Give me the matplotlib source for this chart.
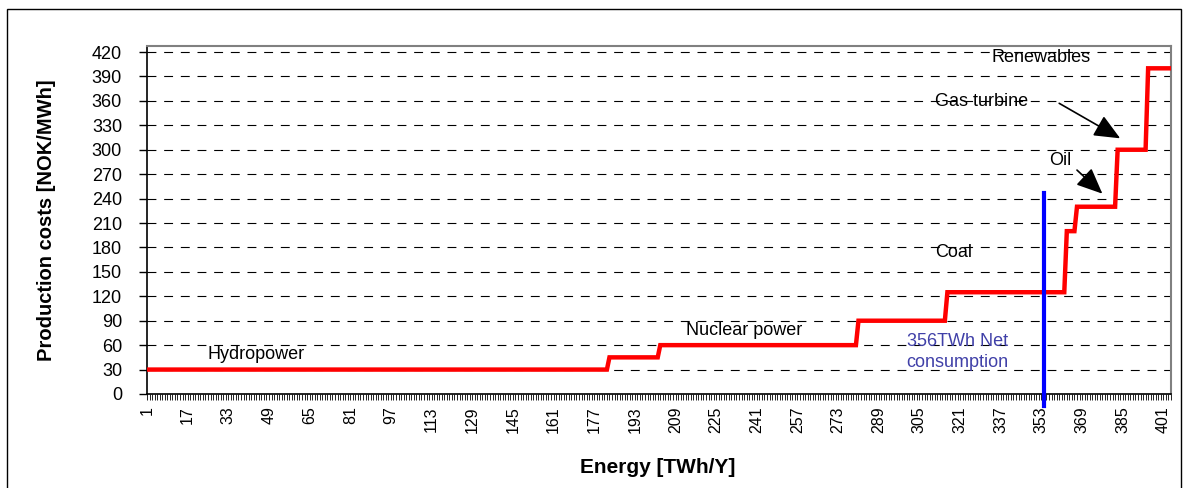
import numpy as np
from matplotlib import pyplot as plt
from matplotlib.patches import Rectangle

# step curve: number of TWh blocks at each production cost
block_sizes = [182, 20, 78, 35, 47, 4, 16, 12, 10]
block_costs = [30, 45, 60, 90, 125, 200, 230, 300, 400]

costs = np.repeat(block_costs, block_sizes)
energy = np.arange(1, len(costs) + 1)

net_consumption = 354
y_ticks = list(range(0, 421, 30))
x_tick_labels = list(range(1, 402, 16))

plt.rcParams['font.family'] = ['Liberation Sans', 'DejaVu Sans']

fig = plt.figure(figsize=(11.89, 4.88), dpi=100)
ax = fig.add_axes([147/1189, 1 - 394/488, (1171-147)/1189, (394-46)/488])

ax.plot(energy, costs, color="red", linewidth=3.2, solid_joinstyle="miter", zorder=3)
ax.plot([net_consumption, net_consumption], [-15, 247], color="blue", linewidth=3, clip_on=False, zorder=4)

ax.set_xlim(1, len(costs))
ax.set_ylim(0, 427.4)
ax.set_yticks(y_ticks)
ax.set_yticklabels([str(v) for v in y_ticks], fontsize=13)
ax.set_xticks(x_tick_labels)
ax.set_xticklabels([str(v) for v in x_tick_labels], rotation=90, fontsize=11.5)
ax.set_xticks(energy, minor=True)
ax.tick_params(axis="x", which="both", length=4, width=0.6, direction="out", pad=5)
ax.tick_params(axis="y", length=6, width=1, pad=12)

for v in y_ticks[1:]:
    ax.axhline(v, color="black", linestyle=(0, (8, 7)), linewidth=0.8, zorder=1)

for s in ["top", "right"]:
    ax.spines[s].set_color("#808080")
    ax.spines[s].set_linewidth(1.5)
ax.spines["left"].set_linewidth(1.2)
ax.spines["bottom"].set_linewidth(1.2)

ax.set_ylabel("Production costs [NOK/MWh]", fontsize=14.5, fontweight="bold", va="center")
ax.yaxis.set_label_coords(-0.0977, 0.5)
ax.set_xlabel("Energy [TWh/Y]", fontsize=15, fontweight="bold", va="center")
ax.xaxis.set_label_coords(0.499, -0.21)

ax.text(25, 49, "Hydropower", fontsize=13, va="center")
ax.text(213, 78, "Nuclear power", fontsize=13, va="center")
ax.text(320, 51.5, "356TWh Net\nconsumption", fontsize=13, color="#4040a8", ha="center", va="center", linespacing=1.3)
ax.text(311, 174, "Coal", fontsize=13, va="center")
ax.text(353, 413, "Renewables", fontsize=13, va="center", ha="center")
ax.text(356, 287, "Oil", fontsize=13, va="center")
ax.text(311, 359, "Gas turbine", fontsize=13, va="center")

head = "-|>,head_length=0.8,head_width=0.35"
ax.annotate("", xy=(377, 246), xytext=(367, 275),
            arrowprops=dict(arrowstyle=head, color="black", lw=1.2, mutation_scale=20, shrinkA=0, shrinkB=0))
ax.annotate("", xy=(384, 314), xytext=(360, 357),
            arrowprops=dict(arrowstyle=head, color="black", lw=1.2, mutation_scale=20, shrinkA=0, shrinkB=0))

fig.patches.append(Rectangle((7/1189, -0.1), (1181-7)/1189, 1.1 - 9/488, transform=fig.transFigure,
                             fill=False, edgecolor="black", linewidth=1))

plt.savefig("out.png")
